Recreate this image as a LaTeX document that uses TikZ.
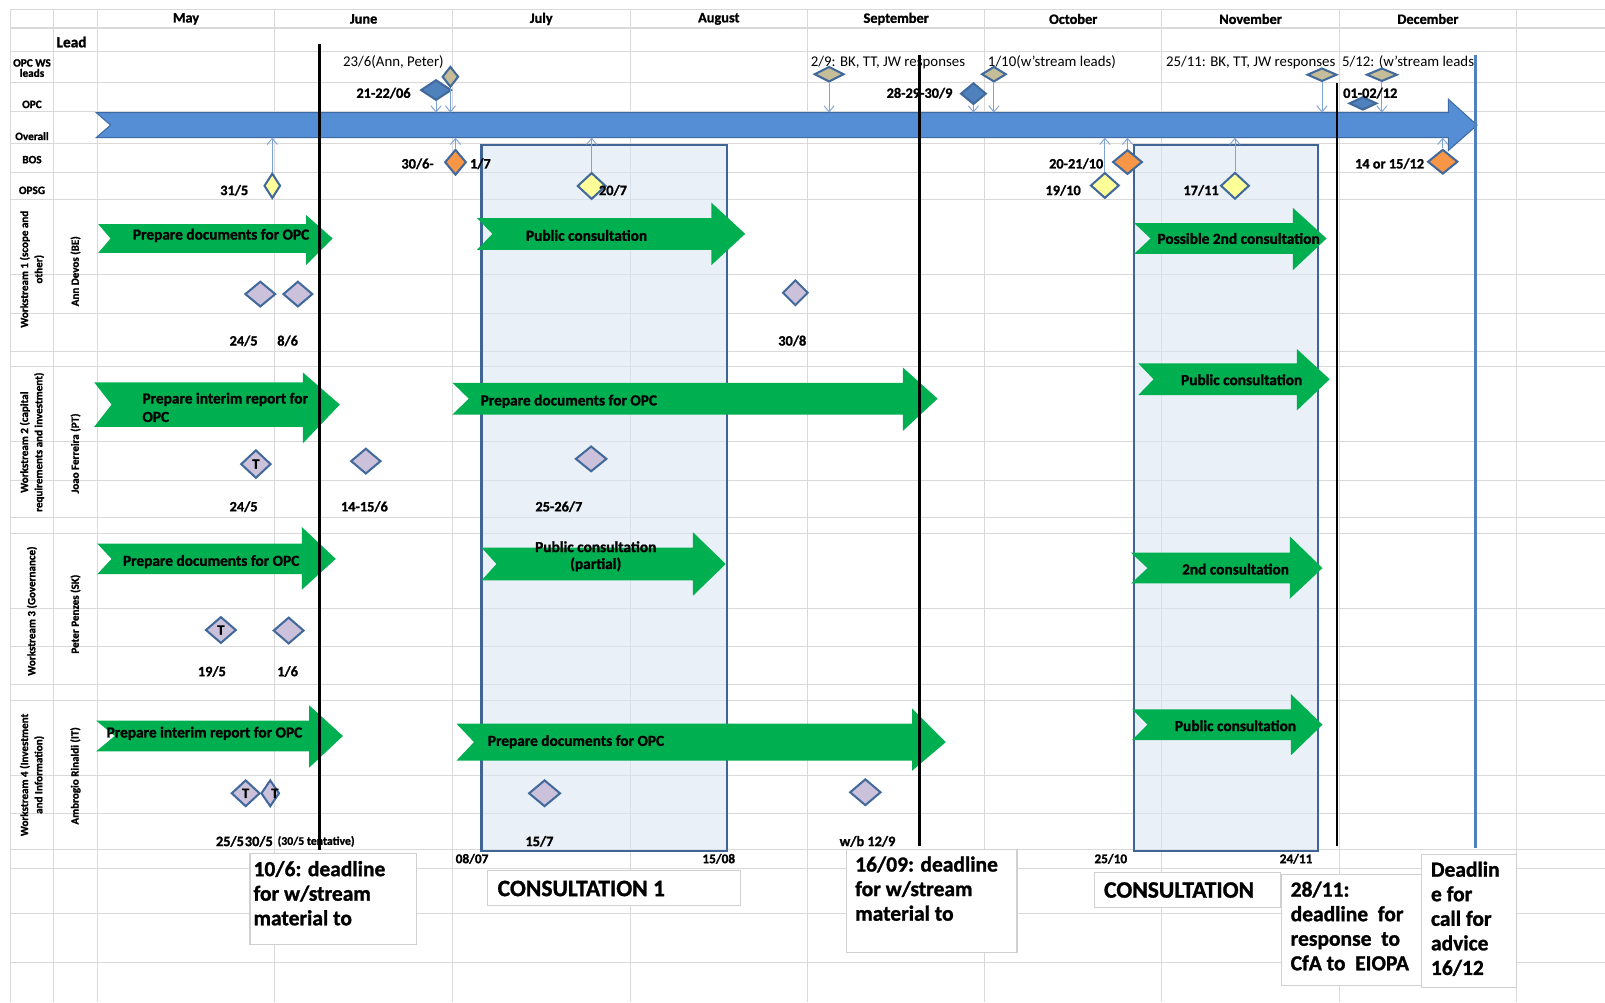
\documentclass[tikz,border=0pt]{standalone}
\usepackage{fontspec}
\setmainfont{Carlito}[BoldFeatures={FakeBold=1.2}]
\usetikzlibrary{shapes.geometric,arrows.meta}
\definecolor{gridc}{HTML}{D9D9D9}
\definecolor{barc}{HTML}{558ED5}
\definecolor{barb}{HTML}{3E6AA3}
\definecolor{ggreen}{HTML}{00B050}
\definecolor{consf}{HTML}{DCE6F2}
\definecolor{consb}{HTML}{3F6597}
\definecolor{dbord}{HTML}{41699C}
\definecolor{tanc}{HTML}{C4BD97}
\definecolor{opcc}{HTML}{4F81BD}
\definecolor{orc}{HTML}{F79646}
\definecolor{yelc}{HTML}{FFFF99}
\definecolor{lavc}{HTML}{CCC1DA}
\definecolor{connc}{HTML}{7EA3D6}
\definecolor{vblue}{HTML}{4F81BD}
\definecolor{boxb}{HTML}{D0D0D0}
\newcommand{\fsz}[2]{\fontsize{#1}{#2}\selectfont}
\newcommand{\garrowshape}[8]{\fill[ggreen] (#1,#5) -- (#3,#5) -- (#3,#7) -- (#4,{(#5+#6)/2}) -- (#3,#8) -- (#3,#6) -- (#1,#6) -- (#2,{(#5+#6)/2}) -- cycle;}
\tikzset{
  gridln/.style={draw=gridc, line width=0.9pt},
  dm/.style n args={3}{shape=diamond, draw=dbord, line width=2pt, fill=#3, inner sep=0pt, minimum width=#1, minimum height=#2},
  conn/.style={draw=connc, line width=0.9pt, -{Straight Barb[length=6pt,width=10pt]}},
  atxt/.style={font=\fsz{15}{18}\bfseries, inner sep=0pt},
  lab/.style={font=\fsz{14}{16}\bfseries, inner sep=0pt},
  slab/.style={font=\fsz{13}{15}\bfseries, inner sep=0pt},
  rlab/.style={font=\fsz{14.5}{16}, inner sep=0pt},
  monthlab/.style={font=\fsz{14}{16}\bfseries, inner sep=0pt},
  rowlab/.style={font=\fsz{11}{10}\bfseries, inner sep=0pt, align=center},
  wslab/.style={font=\fsz{10.8}{14}\bfseries, inner sep=0pt, align=center, rotate=90},
  conbox/.style={draw=consb, line width=2.2pt, fill=consf, fill opacity=0.6, inner sep=0pt, anchor=north west},
  dline/.style={draw=black, line width=2.4pt},
  nbox/.style={draw=boxb, line width=1.2pt, fill=white, inner sep=0pt, anchor=north west},
  btxt/.style={font=\fsz{21}{24}\bfseries, inner sep=0pt, align=left, anchor=north west},
  ctxt/.style={font=\fsz{23}{26}\bfseries, inner sep=0pt, anchor=west},
  tlab/.style={font=\fsz{14}{16}\bfseries, inner sep=0pt}
}
\begin{document}
\begin{tikzpicture}[x=1pt,y=-1pt]
\useasboundingbox (0,0) rectangle (1568,979);
\fill[white] (0,0) rectangle (1568,979);
% grid
\foreach \x in {10,52.5,95,268.5,442,615.5,789,962,1135,1308.5,1481.5}
  \draw[gridln] (\x,9) -- (\x,979);
\foreach \y in {9,50.5,80.4,109,140,168.3,194.5,268.5,306,343,358,431.5,469,506,521,594.5,632,669,684,757.5,795,830,848,892,940}
  \draw[gridln] (10,\y) -- (1568,\y);
\draw[gridln, line width=1.8pt] (10,27.5) -- (1568,27.5);
% consultation boxes
\node[conbox, minimum width=239.5, minimum height=689.3] (cons1) at (469.4,140.7) {};
\node[conbox, minimum width=179.8, minimum height=689.3] (cons2) at (1107,140.7) {};
% overall bar
\filldraw[fill=barc, draw=barb, line width=1pt] (94,110) -- (1415,110) -- (1415,97) -- (1443,122.25) -- (1415,147) -- (1415,134.5) -- (94,134.5) -- (108,122.25) -- cycle;
\coordinate (bartop) at (0,110);
\coordinate (barbot) at (0,134.5);
% month headers
\node[monthlab] (mMay) at (181.75,18.5) {May};
\node[monthlab] (mJun) at (355.25,18.5) {June};
\node[monthlab] (mJul) at (528.75,18.5) {July};
\node[monthlab] (mAug) at (702.25,18.5) {August};
\node[monthlab] (mSep) at (875.5,18.5) {September};
\node[monthlab] (mOct) at (1048.5,18.5) {October};
\node[monthlab] (mNov) at (1221.75,18.5) {November};
\node[monthlab] (mDec) at (1395,18.5) {December};
\node[font=\fsz{15}{16}\bfseries, inner sep=0pt, anchor=west] (lead) at (55,41) {Lead};
% row labels
\node[rowlab] (rws) at (31.25,66.5) {OPC WS\\leads};
\node[rowlab] (ropc) at (31.25,102) {OPC};
\node[rowlab] (rall) at (31.25,133) {Overall};
\node[rowlab] (rbos) at (31.25,156) {BOS};
\node[rowlab] (ropsg) at (31.25,186) {OPSG};
% workstream labels
\node[wslab] (ws1) at (31.25,263) {Workstream 1 (scope and\\other)};
\node[wslab] (ws2) at (31.25,432) {Workstream 2 (capital\\requirements and investment)};
\node[wslab] (ws3) at (31.25,597) {Workstream 3 (Governance)};
\node[wslab] (ws4) at (31.25,757) {Workstream 4 (Investment\\and Information)};
\node[wslab] (ld1) at (73.75,265) {Ann Devos (BE)};
\node[wslab] (ld2) at (73.75,443) {Joao Ferreira (PT)};
\node[wslab] (ld3) at (73.75,600) {Peter Penzes (SK)};
\node[wslab] (ld4) at (73.75,758) {Ambrogio Rinaldi (IT)};
% top diamonds
\node[dm={16}{20}{tanc}] (t236) at (440,75) {};
\node[dm={30}{20}{opcc}] (o2122) at (426,88) {};
\node[dm={29}{15}{tanc}] (t29) at (810,72.5) {};
\node[dm={25}{21}{opcc}] (o2830) at (951,91.5) {};
\node[dm={24}{15}{tanc}] (t110) at (971,72.5) {};
\node[dm={29}{13}{tanc}] (t2511) at (1291.5,73) {};
\node[dm={30}{13}{tanc}] (t512) at (1350,73) {};
\node[dm={27}{13}{opcc}] (o0102) at (1331.5,101) {};
% BOS and OPSG diamonds
\node[dm={21}{25}{orc}] (b306) at (445,158.5) {};
\node[dm={29}{24}{orc}] (b2021) at (1101.5,158.3) {};
\node[dm={29.5}{24}{orc}] (b1415) at (1409.5,158) {};
\node[dm={16}{24.5}{yelc}] (y315) at (266,181.5) {};
\node[dm={28}{26}{yelc}] (y207) at (578,181.7) {};
\node[dm={28}{25}{yelc}] (y1910) at (1079.4,181.2) {};
\node[dm={28}{26}{yelc}] (y1711) at (1206.5,181.5) {};
% connectors
\draw[conn] (t236.south) -- (t236.south |- bartop);
\draw[conn] (o2122.south) -- (o2122.south |- bartop);
\draw[conn] (t29.south) -- (t29.south |- bartop);
\draw[conn] (o2830.south) -- (o2830.south |- bartop);
\draw[conn] (t110.south) -- (t110.south |- bartop);
\draw[conn] (t2511.south) -- (t2511.south |- bartop);
\draw[conn] (t512.south) -- (t512.south |- bartop);
\draw[conn] (y315.north) -- (y315.north |- barbot);
\draw[conn] (b306.north) -- (b306.north |- barbot);
\draw[conn] (y207.north) -- (y207.north |- barbot);
\draw[conn] (y1910.north) -- (y1910.north |- barbot);
\draw[conn] (b2021.north) -- (b2021.north |- barbot);
\draw[conn] (y1711.north) -- (y1711.north |- barbot);
\draw[conn] (b1415.north) -- (b1415.north |- barbot);
% workstream diamonds
\node[dm={30}{25}{lavc}] (w1a) at (254.3,287.3) {};
\node[dm={29}{25}{lavc}] (w1b) at (291,287.3) {};
\node[dm={25}{25}{lavc}] (w1c) at (777,286) {};
\node[dm={29.5}{27.7}{lavc}] (w2a) at (250,453.4) {};
\node[dm={29.5}{25}{lavc}] (w2b) at (357.4,450.5) {};
\node[dm={30.6}{25}{lavc}] (w2c) at (577.5,448.3) {};
\node[dm={30}{26}{lavc}] (w3a) at (215.8,615.5) {};
\node[dm={30}{26}{lavc}] (w3b) at (282,616) {};
\node[dm={28}{26}{lavc}] (w4a) at (240,775) {};
\node[dm={18}{26}{lavc}] (w4b) at (264,775) {};
\node[dm={31}{26}{lavc}] (w4c) at (532,775) {};
\node[dm={30.5}{26}{lavc}] (w4d) at (845.4,774) {};
\node[tlab] (tw2a) at (250,453.4) {T};
\node[tlab] (tw3a) at (215.8,615.5) {T};
\node[tlab] (tw4a) at (240,775) {T};
\node[tlab] (tw4b) at (268.5,775) {T};
% green arrows
\garrowshape{96}{108}{299}{325}{219}{247}{210}{259}
\garrowshape{466}{481}{695}{728}{213}{244}{198}{259}
\garrowshape{1108}{1124}{1263}{1296}{218}{248}{203}{264}
\garrowshape{92}{109}{296}{332}{373.5}{417}{364}{433}
\garrowshape{442}{458}{882}{916}{374}{405}{359}{421}
\garrowshape{1112}{1127}{1267}{1299}{355}{386}{341}{401}
\garrowshape{95}{109}{295}{328}{531}{561}{515}{576}
\garrowshape{470.5}{485}{677}{709}{535}{567}{520}{582}
\garrowshape{1105}{1121}{1260}{1292}{540}{570}{524}{585}
\garrowshape{94}{112}{302}{335}{704}{734}{689}{750}
\garrowshape{446}{463}{891}{924}{707}{743}{692}{753}
\garrowshape{1106}{1121}{1261}{1292}{693}{723}{678}{738}
\node[atxt] (a11) at (216,230) {Prepare documents for OPC};
\node[atxt] (a12) at (573,230) {Public consultation};
\node[atxt] (a13) at (1210,233) {Possible 2nd consultation};
\node[atxt, align=left, anchor=west] (a21) at (139,398) {Prepare interim report for\\OPC};
\node[atxt, anchor=west] (a22) at (469.4,392) {Prepare documents for OPC};
\node[atxt] (a23) at (1213,371) {Public consultation};
\node[atxt] (a31) at (206.3,548.7) {Prepare documents for OPC};
\node[atxt, align=center, font=\fsz{15}{16.5}\bfseries] (a32) at (582,543.5) {Public consultation\\(partial)};
\node[atxt] (a33) at (1207,556) {2nd consultation};
\node[atxt, anchor=west] (a41) at (104,716.4) {Prepare interim report for OPC};
\node[atxt, anchor=west] (a42) at (476.4,724.6) {Prepare documents for OPC};
\node[atxt] (a43) at (1207,709) {Public consultation};
% top labels
\node[rlab, anchor=west] (l236) at (335,61) {23/6(Ann, Peter)};
\node[rlab, anchor=west] (l29) at (792,61) {2/9: BK, TT, JW responses};
\node[rlab, anchor=west] (l110) at (965,61) {1/10(w'stream leads)};
\node[rlab, anchor=west] (l2511) at (1139,61) {25/11: BK, TT, JW responses};
\node[rlab, anchor=west] (l512) at (1311,61) {5/12: (w'stream leads};
\node[lab, anchor=west] (l2122) at (348,91) {21-22/06};
\node[lab, anchor=west] (l2830) at (866,91) {28-29-30/9};
\node[lab, anchor=west] (l0102) at (1312,91) {01-02/12};
\node[lab, anchor=west] (l315) at (215,186) {31/5};
\node[lab, anchor=west] (l306) at (392,160) {30/6-};
\node[lab, anchor=west] (l17) at (459,160) {1/7};
\node[lab, anchor=west] (l207) at (585,186) {20/7};
\node[lab, anchor=east] (l2021) at (1078,160) {20-21/10};
\node[lab, anchor=east] (l1910) at (1056,186) {19/10};
\node[lab, anchor=west] (l1711) at (1156,186) {17/11};
\node[lab, anchor=west] (l1415) at (1323.6,160) {14 or 15/12};
% workstream date labels
\node[lab] (d11) at (238,333) {24/5};
\node[lab] (d12) at (281,333) {8/6};
\node[lab] (d13) at (774,333) {30/8};
\node[lab] (d21) at (238,495) {24/5};
\node[lab] (d22) at (356,495) {14-15/6};
\node[lab] (d23) at (546,495) {25-26/7};
\node[lab] (d31) at (207,656) {19/5};
\node[lab] (d32) at (281,656) {1/6};
\node[lab, anchor=east] (d41) at (238.5,822) {25/5};
\node[lab, anchor=west] (d42) at (239,822) {30/5};
\node[font=\fsz{11.5}{13}\bfseries, inner sep=0pt, anchor=west] (d43) at (271,822) {(30/5 tentative)};
\node[lab] (d44) at (527,822) {15/7};
\node[lab] (d45) at (847.5,822) {w/b 12/9};
\node[slab, anchor=west] (c1a) at (445,839) {08/07};
\node[slab, anchor=west] (c1b) at (686,839) {15/08};
\node[slab, anchor=west] (c2a) at (1069,839) {25/10};
\node[slab, anchor=west] (c2b) at (1250,839) {24/11};
% deadline lines
\draw[dline] (312,43.3) -- (312,830);
\draw[dline] (898.5,53.7) -- (898.5,826);
\draw[dline] (1306,81) -- (1306,826);
\draw[draw=vblue, line width=3.5pt] (1441.5,53.7) -- (1441.5,828);
% bottom boxes
\node[nbox, minimum width=162.3, minimum height=89.4] (bx1) at (243.7,833) {};
\node[btxt] (bt1) at (247.5,841) {10/6: deadline\\for w/stream\\material to};
\node[nbox, minimum width=247, minimum height=34] (bx2) at (476,850) {};
\node[ctxt] (bt2) at (486,868) {CONSULTATION 1};
\node[nbox, minimum width=166.5, minimum height=100.6] (bx3) at (826.5,829.4) {};
\node[btxt] (bt3) at (835.3,836.5) {16/09: deadline\\for w/stream\\material to};
\node[nbox, minimum width=181, minimum height=34.2] (bx4) at (1069,851.6) {};
\node[ctxt] (bt4) at (1078.4,869.5) {CONSULTATION};
\node[nbox, minimum width=137, minimum height=108.3] (bx5) at (1251,854) {};
\node[btxt] (bt5) at (1260.7,861) {28/11:\\deadline~ for\\response~ to\\CfA to~ EIOPA};
\node[nbox, minimum width=93, minimum height=129.7] (bx6) at (1388,834.3) {};
\node[btxt] (bt6) at (1397.8,841.5) {Deadlin\\e for\\call for\\advice\\16/12};
\end{tikzpicture}
\end{document}
